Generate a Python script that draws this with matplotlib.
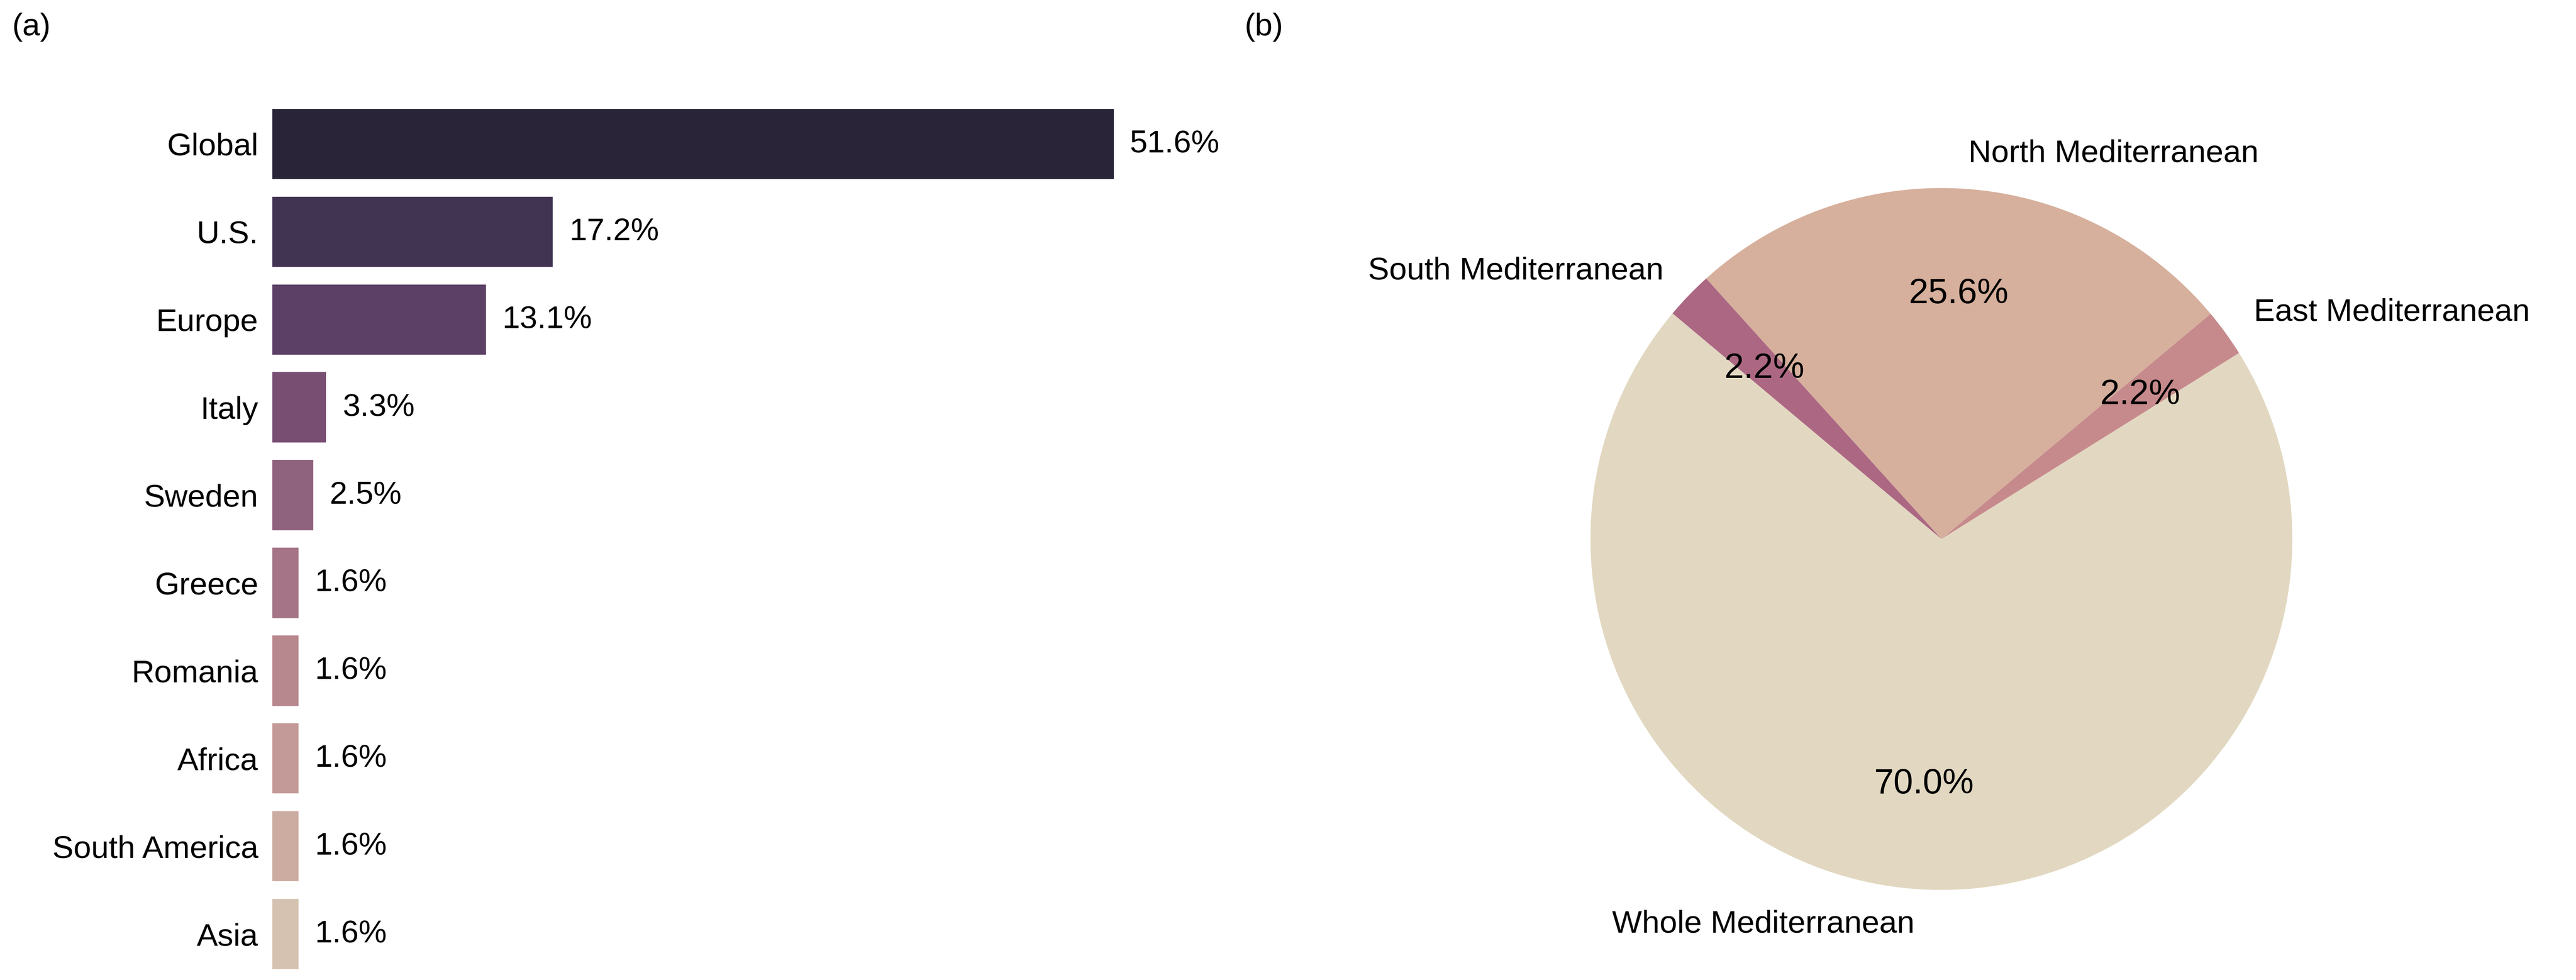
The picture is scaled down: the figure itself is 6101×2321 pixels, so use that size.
import matplotlib
matplotlib.use("Agg")
import matplotlib.pyplot as plt

plt.rcParams['font.family'] = ['Liberation Sans', 'DejaVu Sans']
plt.rcParams['font.size'] = 18

# (a) share of studies by region
regions = ["Global", "U.S.", "Europe", "Italy", "Sweden", "Greece",
           "Romania", "Africa", "South America", "Asia"]
region_pct = [51.6, 17.2, 13.1, 3.3, 2.5, 1.6, 1.6, 1.6, 1.6, 1.6]

# (b) Mediterranean sub-areas
med_areas = ["Whole Mediterranean", "East Mediterranean",
             "North Mediterranean", "South Mediterranean"]
med_pct = [70.0, 2.2, 25.6, 2.2]

bar_colors = ["#2a2439", "#413352", "#5c4065", "#784e73", "#8f627e",
              "#a57487", "#b8888f", "#c49a98", "#ccaca1", "#d6c2b0"]
pie_colors = ["#e2d8c1", "#c68a8c", "#d6b09c", "#ac6883"]

W, H = 6101, 2321
fig = plt.figure(figsize=(W / 300, H / 300), dpi=300)

# bar chart
ax1 = fig.add_axes([645 / W, 5 / H, 56 * 38.62 / W, 2079 / H])
pos = list(range(len(regions)))
ax1.barh(pos, region_pct, height=0.8, color=bar_colors)
for p, v in zip(pos, region_pct):
    ax1.text(v + 1.0, p, f"{v:.1f}%", ha="left", va="center", fontsize=18)
ax1.set_xlim(0, 56)
ax1.set_ylim(len(regions) - 0.5, -0.5)
ax1.set_yticks(pos)
ax1.set_yticklabels(regions, fontsize=18)
ax1.set_xticks([])
ax1.tick_params(axis="y", length=0, pad=8)
for s in ax1.spines.values():
    s.set_visible(False)

# pie chart
ax2 = fig.add_axes([3559 / W, 5 / H, 2078 / W, 2079 / H])
wedges, texts, autotexts = ax2.pie(
    med_pct, labels=med_areas, colors=pie_colors, startangle=140,
    autopct="%1.1f%%", pctdistance=0.7, labeldistance=1.1,
    textprops={"fontsize": 18})
for t in autotexts:
    t.set_fontsize(20)
ax2.set_xlim(-1.25, 1.25)
ax2.set_ylim(-1.25, 1.25)
ax2.set_aspect("equal")

fig.text(28 / W, 1 - 84 / H, "(a)", fontsize=18, va="baseline")
fig.text(2947 / W, 1 - 84 / H, "(b)", fontsize=18, va="baseline")

fig.savefig("out.png", dpi=300)
